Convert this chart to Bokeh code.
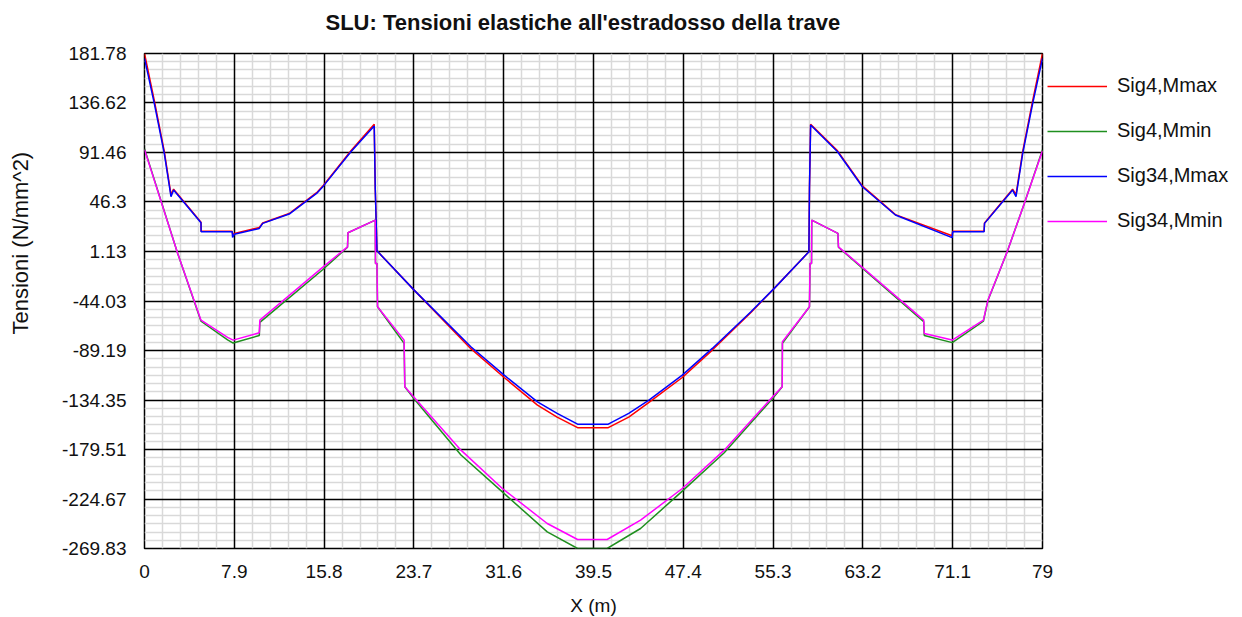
import numpy as np
from bokeh.plotting import figure
from bokeh.models import FixedTicker, Legend, LegendItem, Title, Grid
from bokeh.embed import file_html
from bokeh.resources import INLINE

# ---------------- data ----------------
title_text = "SLU: Tensioni elastiche all'estradosso della trave"
x_label = "X (m)"
y_label = "Tensioni (N/mm^2)"

x_ticks = [0, 7.9, 15.8, 23.7, 31.6, 39.5, 47.4, 55.3, 63.2, 71.1, 79]
x_tick_labels = ["0", "7.9", "15.8", "23.7", "31.6", "39.5", "47.4", "55.3", "63.2", "71.1", "79"]
y_ticks = [-269.83, -224.67, -179.51, -134.35, -89.19, -44.03, 1.13, 46.3, 91.46, 136.62, 181.78]
y_tick_labels = ["-269.83", "-224.67", "-179.51", "-134.35", "-89.19", "-44.03", "1.13", "46.3",
                 "91.46", "136.62", "181.78"]

series_names = ["Sig4,Mmax", "Sig4,Mmin", "Sig34,Mmax", "Sig34,Mmin"]

x_max = [0, 0.86, 1.74, 2.33, 2.56, 4.97, 4.98, 7.72, 7.75, 7.9, 10.1, 10.4, 12.73, 15.2, 15.75,
         18.16, 20.21, 20.3, 20.45, 23.72, 28.71, 31.64, 34.57, 36.3, 38.1, 40.8, 42.6, 44.38,
         47.31, 49.95, 53.35, 55.4, 58.45, 58.5, 58.6, 60.97, 63.15, 66.06, 71.05, 71.1, 73.86,
         73.9, 76.37, 76.67, 77.26, 78.14, 79]
sig34_mmax = [177.4, 136.3, 90.7, 51.1, 57.2, 27.4, 19.1, 19.1, 14.0, 16.8, 22.2, 26.8, 35.3, 54.7,
              61.0, 92.1, 115.6, 58.7, 1.8, -34.1, -85.8, -111.7, -136.0, -146.6, -156.4, -156.4,
              -146.6, -134.5, -111.7, -87.3, -53.9, -32.5, 0.9, 58.7, 116.5, 92.1, 60.2, 34.4,
              13.8, 19.1, 19.1, 26.8, 57.2, 51.1, 90.7, 136.3, 177.4]
sig4_mmax = [181.78, 139.0, 92.5, 53.0, 58.0, 27.8, 19.5, 19.5, 16.8, 17.5, 23.0, 27.2, 35.8, 55.3,
             61.5, 93.0, 117.2, 58.7, 1.8, -34.1, -87.5, -113.8, -139.0, -150.0, -159.6, -159.6,
             -150.0, -136.6, -113.8, -88.8, -54.5, -32.5, 0.9, 58.7, 117.2, 93.0, 61.0, 34.8,
             15.5, 19.5, 19.5, 27.2, 58.0, 53.0, 92.5, 139.0, 181.78]

x_min = [0, 2.92, 4.97, 7.31, 7.8, 10.1, 10.15, 15.67, 17.86, 17.9, 20.3, 20.32, 20.45, 20.5,
         22.84, 22.9, 23.73, 27.84, 31.48, 35.43, 38.1, 40.7, 43.64, 47.31, 51.0, 55.26, 56.1,
         56.12, 58.5, 58.55, 58.68, 58.7, 61.0, 61.05, 68.55, 68.6, 71.06, 73.8, 74.2, 75.95,
         77.4, 79]
sig34_mmin = [94.0, -0.6, -61.5, -77.2, -79.7, -73.0, -61.5, -13.4, 5.4, 18.2, 29.8, -9.7, -9.7,
              -49.3, -79.7, -122.3, -132.0, -180.1, -215.1, -247.0, -261.6, -261.6, -244.0,
              -215.1, -180.1, -131.5, -122.3, -81.2, -49.3, -9.7, -9.7, 29.8, 17.7, 5.4, -61.5,
              -73.6, -79.7, -61.5, -43.2, 2.4, 45.0, 93.0]
sig4_mmin = [95.0, -0.6, -62.5, -79.5, -82.4, -75.5, -63.5, -15.5, 5.0, 18.2, 29.8, -9.7, -9.7,
             -49.3, -82.7, -122.3, -133.5, -184.5, -218.2, -254.7, -269.83, -269.83, -251.6,
             -217.5, -182.5, -133.0, -122.3, -82.7, -49.3, -9.7, -9.7, 29.8, 17.7, 5.0, -63.0,
             -75.5, -82.0, -62.5, -43.5, 2.4, 45.0, 94.0]

# ---------------- figure ----------------
FONT = "Liberation Sans"
TXT = "#111111"

p = figure(frame_width=898, frame_height=495, output_backend="svg", toolbar_location=None,
           x_range=(0, 79), y_range=(y_ticks[0], y_ticks[-1]),
           min_border_left=144, min_border_right=0, min_border_top=53, min_border_bottom=69)
p.background_fill_color = "white"
p.border_fill_color = "white"
p.outline_line_color = "black"
p.outline_line_width = 1.5

# spacer between frame and title (title is the outermost "above" panel)
p.add_layout(Title(text=" ", text_font_size="8px", standoff=8), "above")

p.title.text = title_text
p.title.text_font = FONT
p.title.text_font_size = "22px"
p.title.text_font_style = "bold"
p.title.text_color = TXT
p.title.align = "left"
p.title.offset = 181
p.title.standoff = 0
p.title.vertical_align = "bottom"

x_minor = [x_ticks[i] + (x_ticks[i + 1] - x_ticks[i]) * k / 5.0
           for i in range(len(x_ticks) - 1) for k in range(1, 5)]
y_minor = [y_ticks[i] + (y_ticks[i + 1] - y_ticks[i]) * k / 6.0
           for i in range(len(y_ticks) - 1) for k in range(1, 6)]
xt = FixedTicker(ticks=x_ticks, minor_ticks=x_minor)
yt = FixedTicker(ticks=y_ticks, minor_ticks=y_minor)

p.xaxis.ticker = xt
p.yaxis.ticker = yt
p.xaxis.major_label_overrides = {t: l for t, l in zip(x_ticks, x_tick_labels)}
p.yaxis.major_label_overrides = {t: l for t, l in zip(y_ticks, y_tick_labels)}

for ax in (p.xaxis[0], p.yaxis[0]):
    ax.axis_line_color = None
    ax.major_tick_line_color = None
    ax.minor_tick_line_color = None
    ax.major_label_text_font = FONT
    ax.major_label_text_font_size = "19px"
    ax.major_label_text_color = TXT

p.xaxis.major_label_standoff = 10
p.yaxis.major_label_standoff = 12
p.xaxis.axis_label = x_label
p.xaxis.axis_label_text_font = FONT
p.xaxis.axis_label_text_font_size = "19px"
p.xaxis.axis_label_text_font_style = "normal"
p.xaxis.axis_label_text_color = TXT
p.xaxis.axis_label_standoff = 14

# spacer, then the rotated y label (outermost)
p.add_layout(Title(text=" ", text_font_size="8px", standoff=16), "left")
ytitle = Title(text=y_label, align="left", offset=214, text_font=FONT, text_font_size="22px",
               text_font_style="normal", text_color=TXT, standoff=0, vertical_align="bottom")
p.add_layout(ytitle, "left")

# minor grid first (default grids), then major black grid on top
p.xgrid.ticker = xt
p.ygrid.ticker = yt
p.grid.grid_line_color = None
p.grid.minor_grid_line_color = "#d9d9d9"
p.grid.minor_grid_line_width = 1.5
p.add_layout(Grid(dimension=0, ticker=xt, grid_line_color="black", grid_line_width=1.5))
p.add_layout(Grid(dimension=1, ticker=yt, grid_line_color="black", grid_line_width=1.5))

colors = ["#ff0000", "#1f8f1f", "#0000ff", "#ff00ff"]
r1 = p.line(x_max, sig4_mmax, line_color=colors[0], line_width=1.5)
r2 = p.line(x_min, sig4_mmin, line_color=colors[1], line_width=1.5)
r3 = p.line(x_max, sig34_mmax, line_color=colors[2], line_width=1.5)
r4 = p.line(x_min, sig34_mmin, line_color=colors[3], line_width=1.5)

legend = Legend(items=[LegendItem(label=n, renderers=[r]) for n, r in zip(series_names, [r1, r2, r3, r4])],
                location="top_left", border_line_color=None, background_fill_alpha=0,
                label_text_font=FONT, label_text_font_size="20px", label_text_color=TXT,
                glyph_width=60, glyph_height=20, label_height=20, label_standoff=10,
                spacing=22, padding=0, margin=5,
                title=" ", title_text_font_size="8px", title_standoff=7)
p.add_layout(legend, "right")

open("out.html", "w").write(file_html(p, INLINE))
